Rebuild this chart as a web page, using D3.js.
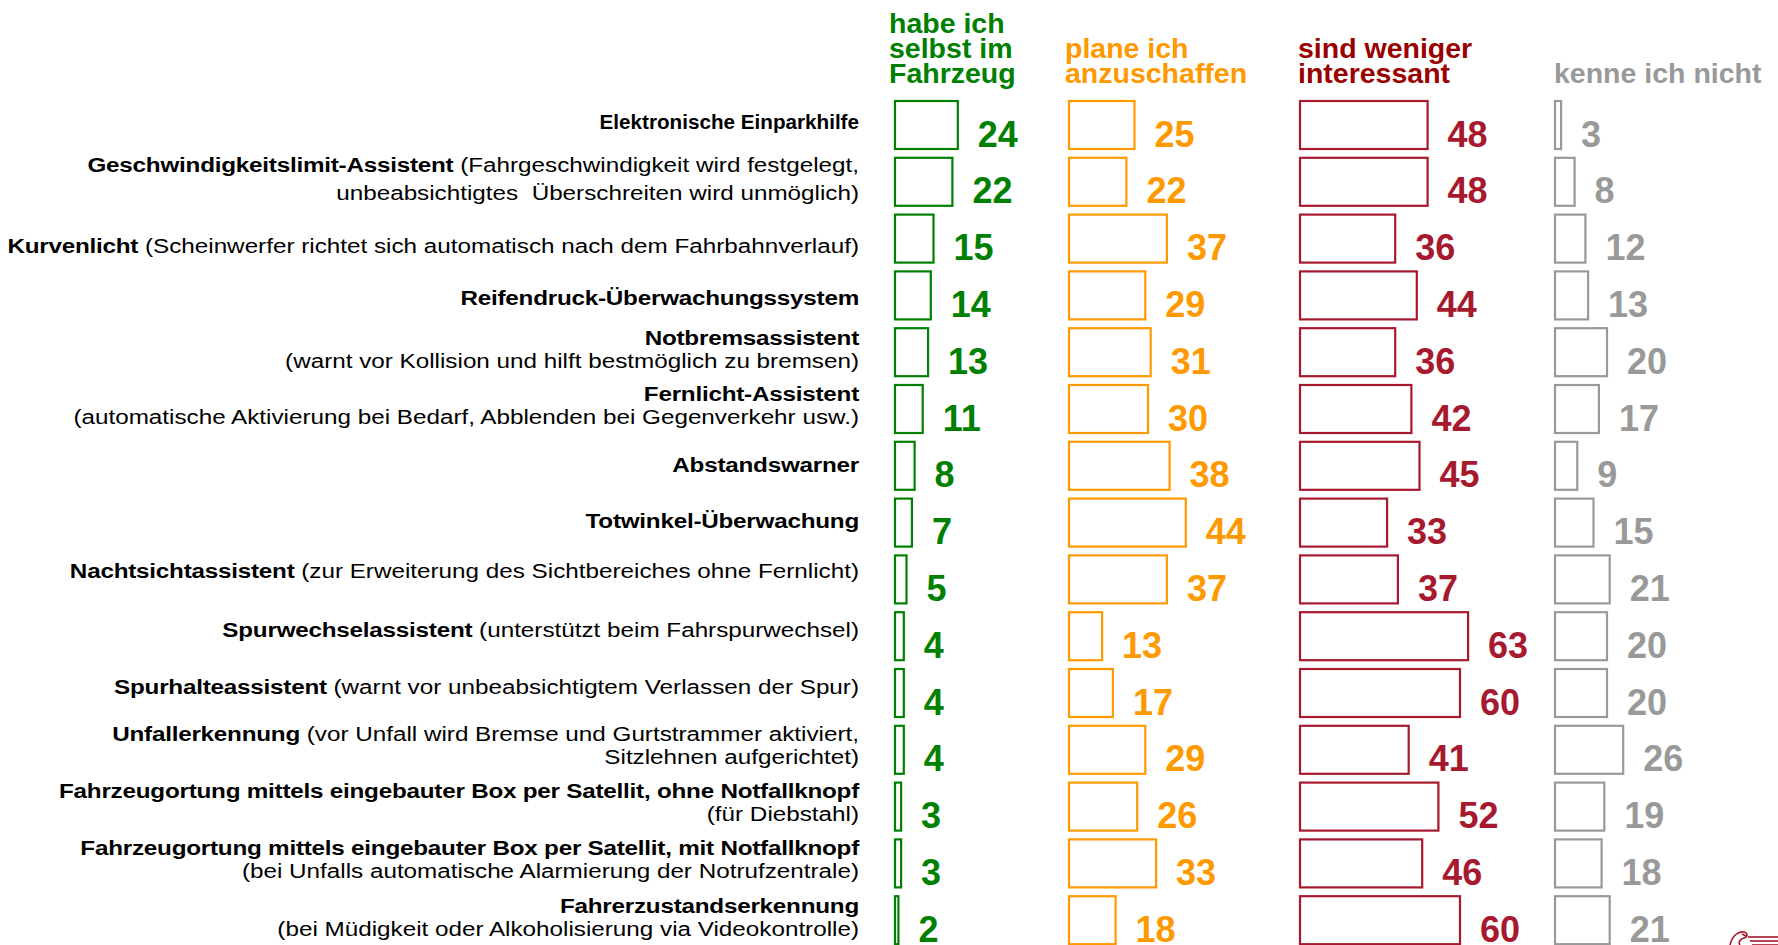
<!DOCTYPE html>
<html>
<head>
<meta charset="utf-8">
<script src="https://cdn.jsdelivr.net/npm/d3@7"></script>
<style>
  body { margin: 0; background: #fff; }
  svg { display: block; font-family: "Liberation Sans", Arial, sans-serif; }
</style>
</head>
<body>
<svg id="chart"></svg>
<script>
// ========================== DATA ==========================
// each label: list of lines, each line: list of [text, bold?]
const labels = [
  [[["Elektronische Einparkhilfe", true]]],
  [[["Geschwindigkeitslimit-Assistent", true], [" (Fahrgeschwindigkeit wird festgelegt,", false]],
   [["unbeabsichtigtes\u00a0 Überschreiten wird unmöglich)", false]]],
  [[["Kurvenlicht", true], [" (Scheinwerfer richtet sich automatisch nach dem Fahrbahnverlauf)", false]]],
  [[["Reifendruck-Überwachungssystem", true]]],
  [[["Notbremsassistent", true]],
   [["(warnt vor Kollision und hilft bestmöglich zu bremsen)", false]]],
  [[["Fernlicht-Assistent", true]],
   [["(automatische Aktivierung bei Bedarf, Abblenden bei Gegenverkehr usw.)", false]]],
  [[["Abstandswarner", true]]],
  [[["Totwinkel-Überwachung", true]]],
  [[["Nachtsichtassistent", true], [" (zur Erweiterung des Sichtbereiches ohne Fernlicht)", false]]],
  [[["Spurwechselassistent", true], [" (unterstützt beim Fahrspurwechsel)", false]]],
  [[["Spurhalteassistent", true], [" (warnt vor unbeabsichtigtem Verlassen der Spur)", false]]],
  [[["Unfallerkennung", true], [" (vor Unfall wird Bremse und Gurtstrammer aktiviert,", false]],
   [["Sitzlehnen aufgerichtet)", false]]],
  [[["Fahrzeugortung mittels eingebauter Box per Satellit, ohne Notfallknopf", true]],
   [["(für Diebstahl)", false]]],
  [[["Fahrzeugortung mittels eingebauter Box per Satellit, mit Notfallknopf", true]],
   [["(bei Unfalls automatische Alarmierung der Notrufzentrale)", false]]],
  [[["Fahrerzustandserkennung", true]],
   [["(bei Müdigkeit oder Alkoholisierung via Videokontrolle)", false]]]
];

const seriesNames = [
  ["habe ich", "selbst im", "Fahrzeug"],
  ["plane ich", "anzuschaffen"],
  ["sind weniger", "interessant"],
  ["kenne ich nicht"]
];

const habeIch    = [24, 22, 15, 14, 13, 11, 8, 7, 5, 4, 4, 4, 3, 3, 2];
const planeIch   = [25, 22, 37, 29, 31, 30, 38, 44, 37, 13, 17, 29, 26, 33, 18];
const weniger    = [48, 48, 36, 44, 36, 42, 45, 33, 37, 63, 60, 41, 52, 46, 60];
const kenneNicht = [3, 8, 12, 13, 20, 17, 9, 15, 21, 20, 20, 26, 19, 18, 21];

// ========================== SETTINGS ==========================
const width = 1778, height = 945;
const series = [
  { values: habeIch,    x0: 894,  color: "#008000", head: "#008000", hx: 889 },
  { values: planeIch,   x0: 1068, color: "#FF9900", head: "#FF9900", hx: 1065 },
  { values: weniger,    x0: 1299, color: "#A6192E", head: "#990000", hx: 1298 },
  { values: kenneNicht, x0: 1554, color: "#999999", head: "#999999", hx: 1554 }
];
series.forEach((s, i) => s.name = seriesNames[i]);

// small vertical nudges of the left text boxes (as placed in the original slide)
const labelShift = [-4, -3, 7, 2, -3, -4, -1, -2, -9, -7, -7, -5, -5, -4, -3];

const svg = d3.select("#chart").attr("width", width).attr("height", height);

const step = 56.8;
const xs = d3.scaleLinear().domain([0, 100]).range([0, 270]);
const ys = d3.scaleBand()
  .domain(d3.range(labels.length))
  .range([100 - (step - 50) / 2, 100 - (step - 50) / 2 + labels.length * step])
  .paddingInner((step - 50) / step)
  .paddingOuter((step - 50) / step / 2);

// ========================== HEADERS ==========================
series.forEach(s => {
  const n = s.name.length;
  svg.append("g")
    .selectAll("text")
    .data(s.name)
    .enter()
    .append("text")
    .attr("x", s.hx)
    .attr("y", (d, i) => 83 - (n - 1 - i) * 25)
    .attr("fill", s.head)
    .attr("font-weight", "bold")
    .attr("font-size", 28.5)
    .text(d => d);
});

// ========================== LEFT LABELS ==========================
const lab = svg.append("g");
labels.forEach((lines, i) => {
  const mid = ys(i) + ys.bandwidth() / 2 + labelShift[i];
  const gap = i === 1 ? 28 : 23;
  const base = lines.length === 1
    ? [mid + 7.5]
    : [mid - gap / 2 + 7.5, mid + gap / 2 + 7.5];
  const sx = i === 0 ? 1.06 : 1.155;
  const fs = i === 0 ? 19.5 : 21;
  lines.forEach((parts, j) => {
    const t = lab.append("g")
      .attr("transform", "translate(859," + base[j] + ") scale(" + sx + ",1)")
      .append("text")
      .attr("text-anchor", "end")
      .attr("font-size", fs)
      .attr("fill", "#000");
    parts.forEach(p => {
      t.append("tspan")
        .attr("font-weight", p[1] ? "bold" : "normal")
        .attr("letter-spacing", p[1] && i > 0 ? -0.2 : 0)
        .text(p[0]);
    });
  });
});

// ========================== BARS ==========================
series.forEach(s => {
  const g = svg.append("g").attr("transform", "translate(" + s.x0 + ",0)");

  g.selectAll("rect")
    .data(s.values)
    .enter()
    .append("rect")
    .attr("x", 1)
    .attr("y", (d, i) => ys(i) + 1)
    .attr("width", d => Math.max(xs(d) - 2, 1))
    .attr("height", ys.bandwidth() - 2)
    .attr("fill", "none")
    .attr("stroke", s.color)
    .attr("stroke-width", 2.2);

  g.selectAll("text")
    .data(s.values)
    .enter()
    .append("text")
    .attr("x", d => xs(d) + 19)
    .attr("y", (d, i) => ys(i) + ys.bandwidth() - 3.5)
    .attr("fill", s.color)
    .attr("font-weight", "bold")
    .attr("font-size", 36)
    .text(d => d);
});

// ========================== LOGO (cut off at bottom right) ==========================
const logo = svg.append("g")
  .attr("transform", "translate(1728,928)")
  .attr("fill", "none")
  .attr("stroke", "#A6192E")
  .attr("stroke-width", 1.6);
logo.append("path").attr("d", "M2,17 C4,8 10,3 16,4 C20,5 20,9 16,10 C12,11 10,14 12,17");
logo.append("path").attr("d", "M14,6 L18,8");
logo.append("path").attr("d", "M20,9 L50,9");
logo.append("path").attr("d", "M22,13 L50,13");
logo.append("path").attr("d", "M24,17 L50,17");
</script>
</body>
</html>
